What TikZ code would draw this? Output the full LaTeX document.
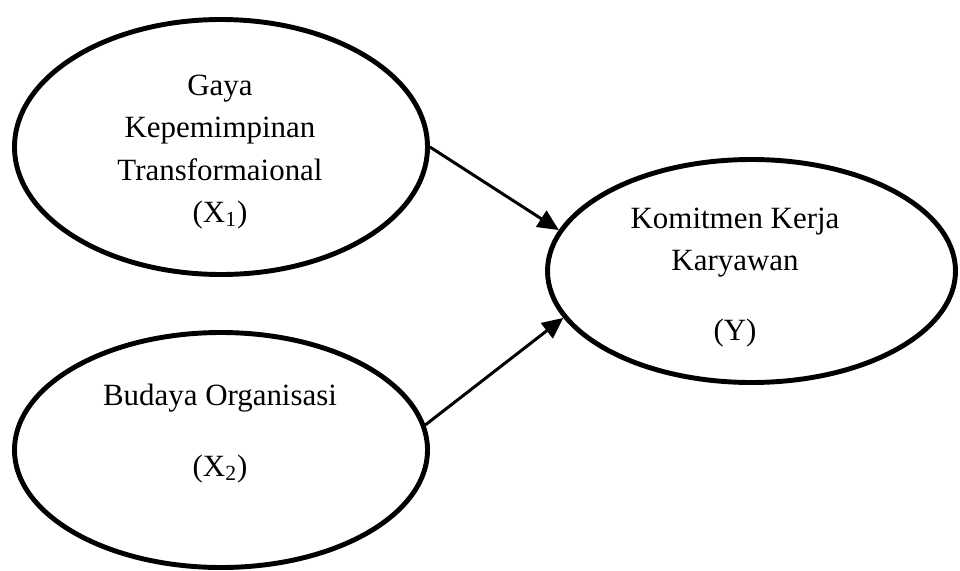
\documentclass[tikz,border=0pt]{standalone}
\usepackage{fontspec}
\setmainfont{Liberation Serif}
\usetikzlibrary{arrows.meta,shapes,positioning,calc}
\tikzset{
    causal/.style={-{Triangle[length=4.2mm, width=3.8mm]}, line width=1.7pt},
    latent/.style={draw, ellipse, line width=2.8pt, inner sep=0pt},
    vartext/.style={align=center, font=\fontsize{17.6}{24}\selectfont}
}

\begin{document}
\begin{tikzpicture}
    \useasboundingbox (0,0) rectangle (19.2,-11.4);
    \node[latent, minimum width=8.26cm, minimum height=5.1cm] (x1) at (4.42,-2.94) {};
    \node[latent, minimum width=8.26cm, minimum height=4.7cm] (x2) at (4.42,-9.0) {};
    \node[latent, minimum width=8.16cm, minimum height=4.46cm] (y) at (15.03,-5.42) {};

    \node[vartext] (x1t) at (4.40,-3.04) {Gaya\\Kepemimpinan\\Transformaional\\(X\textsubscript{1})};
    \node[vartext] (x2t) at (4.40,-8.67) {Budaya Organisasi\\[16pt](X\textsubscript{2})};
    \node[vartext] (yt) at (14.70,-5.55) {Komitmen Kerja\\Karyawan\\[16pt](Y)};

    \draw[causal] (x1.east) -- (y.168);
    \draw[causal] (x2.7) -- (y.194);
\end{tikzpicture}
\end{document}
